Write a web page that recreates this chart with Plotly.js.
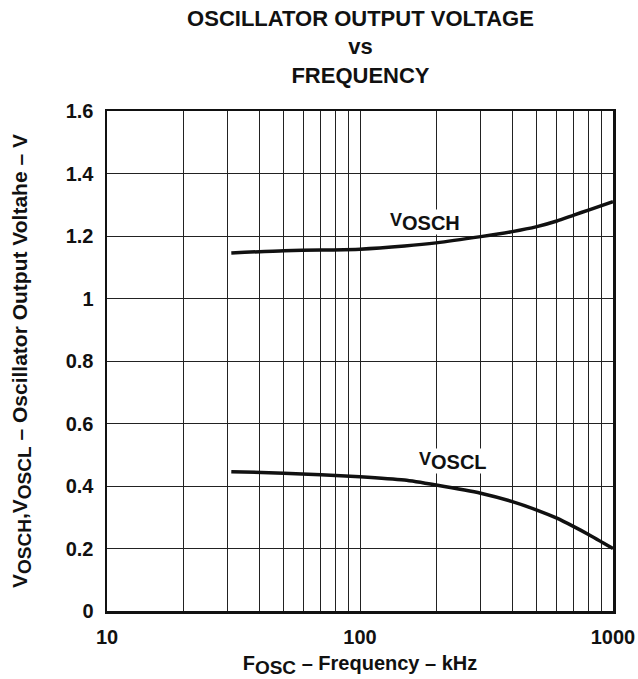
<!DOCTYPE html>
<html>
<head>
<meta charset="utf-8">
<script src="https://cdn.plot.ly/plotly-3.0.1.min.js"></script>
<style>html,body{margin:0;padding:0;background:#fff}#chart{width:638px;height:679px}</style>
</head>
<body>
<div id="chart"></div>
<script>
// Data
const freqHigh = [31, 50, 70, 100, 150, 200, 300, 400, 500, 600, 700, 800, 1000];
const voscH    = [1.146, 1.153, 1.155, 1.158, 1.168, 1.178, 1.198, 1.214, 1.230, 1.248, 1.267, 1.283, 1.310];
const freqLow  = [31, 50, 70, 100, 150, 200, 300, 400, 500, 600, 700, 800, 1000];
const voscL    = [0.446, 0.441, 0.436, 0.430, 0.419, 0.403, 0.377, 0.350, 0.323, 0.297, 0.270, 0.245, 0.200];

const xTickVals = [10,20,30,40,50,60,70,80,90,100,200,300,400,500,600,700,800,900,1000];
const xTickText = ["10","","","","","","","","","100","","","","","","","","","1000"];
const yTickVals = [0,0.2,0.4,0.6,0.8,1,1.2,1.4,1.6];
const yTickText = ["0","0.2","0.4","0.6","0.8","1","1.2","1.4","1.6"];

const FONT = "Arial, 'Liberation Sans', sans-serif";
const sub = (s, px) => '<sub><span style="font-size:' + px + 'px">' + s + '</span></sub>';

const traces = [
  {x: freqHigh, y: voscH, mode: 'lines', line: {color: '#111', width: 3.5, shape: 'spline', smoothing: 0.6}, hoverinfo: 'skip'},
  {x: freqLow, y: voscL, mode: 'lines', line: {color: '#111', width: 3.5, shape: 'spline', smoothing: 0.6}, hoverinfo: 'skip'}
];

const layout = {
  width: 638, height: 679,
  margin: {l: 107, r: 25, t: 111, b: 68},
  paper_bgcolor: '#fff', plot_bgcolor: '#fff',
  showlegend: false,
  font: {family: FONT, color: '#111'},
  title: {
    text: '<b>OSCILLATOR OUTPUT VOLTAGE<br>vs<br>FREQUENCY</b>',
    font: {family: FONT, size: 22, color: '#111'},
    x: 0.565, xanchor: 'center', y: 0.962, yanchor: 'top'
  },
  xaxis: {
    type: 'log', range: [1, 3],
    tickmode: 'array', tickvals: xTickVals, ticktext: xTickText,
    ticks: 'outside', ticklen: 6, tickcolor: 'rgba(0,0,0,0)',
    showgrid: true, gridcolor: '#222', gridwidth: 1,
    showline: true, linecolor: '#111', linewidth: 2.5, mirror: true,
    zeroline: false,
    tickfont: {family: FONT, size: 20, color: '#111', weight: 'bold'},
    title: {text: '<b>F' + sub('OSC', 19) + ' – Frequency – kHz</b>', font: {family: FONT, size: 20, color: '#111'}, standoff: 10}
  },
  yaxis: {
    range: [0, 1.6],
    tickmode: 'array', tickvals: yTickVals, ticktext: yTickText,
    ticks: 'outside', ticklen: 7, tickcolor: 'rgba(0,0,0,0)',
    showgrid: true, gridcolor: '#222', gridwidth: 1,
    showline: true, linecolor: '#111', linewidth: 2.5, mirror: true,
    zeroline: false,
    tickfont: {family: FONT, size: 20, color: '#111', weight: 'bold'},
    title: {text: '<b>V' + sub('OSCH', 19) + ',V' + sub('OSCL', 19) + ' – Oscillator Output Voltahe – V</b>', font: {family: FONT, size: 21, color: '#111'}, standoff: 33}
  },
  annotations: [
    {x: Math.log10(181), y: 1.245, xref: 'x', yref: 'y', text: '<b>V' + sub('OSCH', 20) + '</b>', showarrow: false,
     font: {family: FONT, size: 18, color: '#111'}, bgcolor: '#fff', borderpad: 0},
    {x: Math.log10(233), y: 0.48, xref: 'x', yref: 'y', text: '<b>V' + sub('OSCL', 20) + '</b>', showarrow: false,
     font: {family: FONT, size: 18, color: '#111'}, bgcolor: '#fff', borderpad: 0}
  ]
};

Plotly.newPlot('chart', traces, layout, {displayModeBar: false, staticPlot: true});
</script>
</body>
</html>
